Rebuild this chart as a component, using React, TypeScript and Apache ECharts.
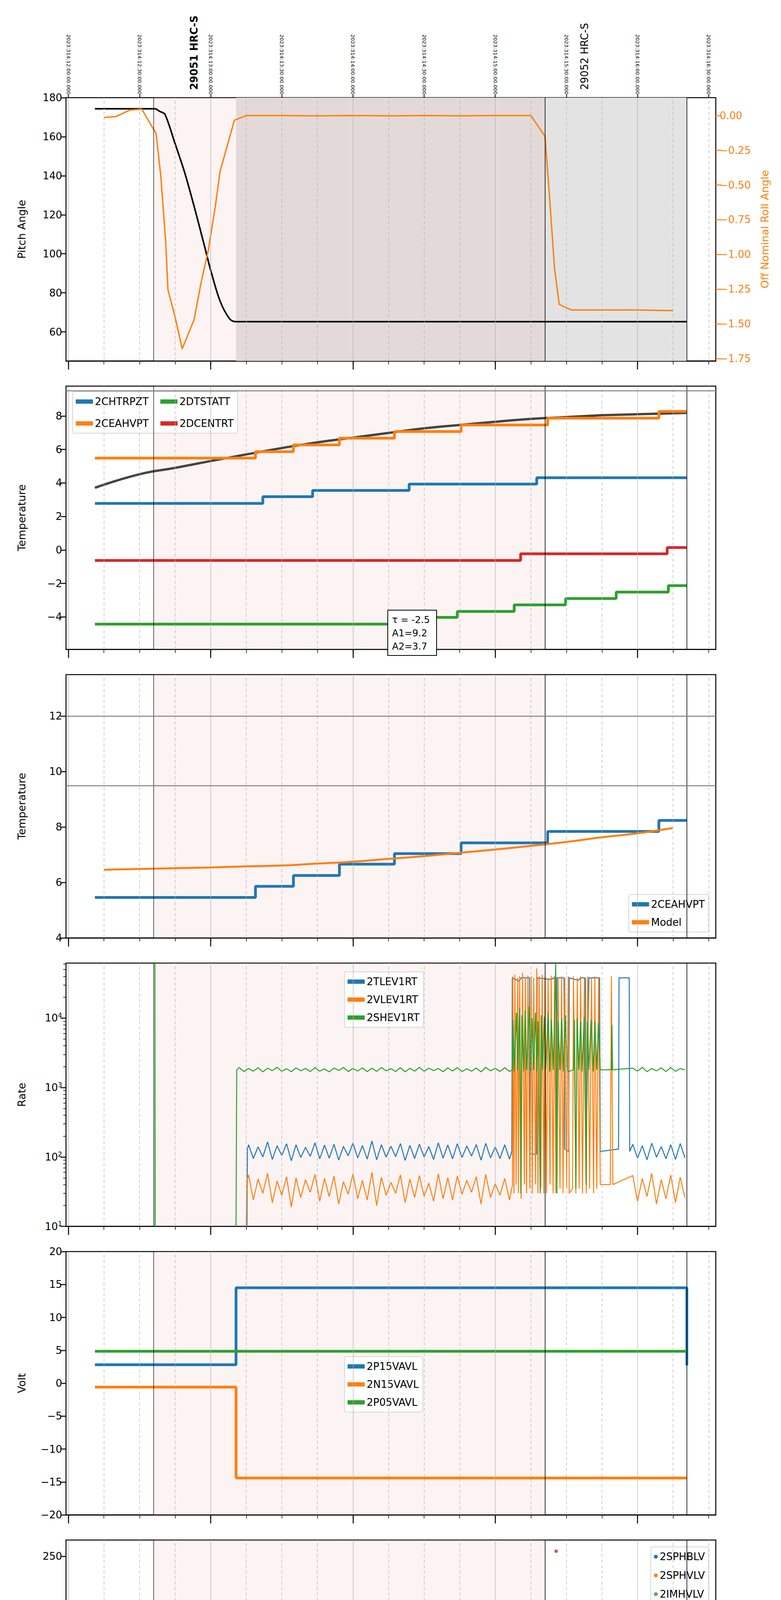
import { useEffect, useRef } from "react";
import * as echarts from "echarts";

// time axis is minutes after 07:00 (2023-11-10)
const hourTicks = [0, 60, 120, 180, 240];
const quarterTicks = [0, 15, 30, 45, 60, 75, 90, 105, 120, 135, 150, 165, 180, 195, 210, 225, 240, 255, 270];
const halfHourTicks = [0, 30, 60, 90, 120, 150, 180, 210, 240, 270];

// panel 1
const pitch = [[11.2, 174.3], [36.5, 174.3], [38.5, 173], [40.7, 171.5], [44.9, 156.8], [49.2, 141], [53.4, 122.6], [57.6, 103], [59.7, 93], [63.9, 76], [68.1, 66.5], [70.7, 65.2], [260.8, 65.2]];
const roll = [[15, -0.014], [20, -0.007], [26, 0.04], [31, 0.045], [37, -0.13], [39, -0.44], [41, -0.9], [42, -1.255], [45, -1.45], [48, -1.68], [53, -1.47], [56, -1.2], [59, -0.97], [62, -0.65], [64, -0.4], [70, -0.034], [75, 0.0], [90, 0.0], [105, -0.002], [120, 0.0], [135, -0.002], [150, 0.0], [165, -0.002], [180, 0.0], [195, 0.0], [201, -0.15], [203, -0.61], [205, -1.1], [207, -1.36], [212, -1.4], [225, -1.4], [240, -1.4], [255, -1.405]];

// panel 2
const chtrpzt = [[11.2, 2.78], [82, 3.18], [103, 3.55], [143.7, 3.93], [197.5, 4.31], [260.8, 4.31]];
const ceahvpt = [[11.2, 5.48], [78.9, 5.87], [94.9, 6.27], [114.3, 6.67], [137.5, 7.07], [165.6, 7.46], [202.1, 7.87], [249, 8.27], [260.8, 8.27]];
const dtstatt = [[11.2, -4.43], [146, -4.03], [164, -3.67], [188, -3.28], [209.7, -2.9], [231, -2.52], [253, -2.13], [260.8, -2.13]];
const dcentrt = [[11.2, -0.63], [190.7, -0.23], [252.5, 0.14], [260.8, 0.14]];
const tempModel = [[11.2, 3.71], [29.8, 4.51], [45, 4.9], [59.7, 5.3], [74.5, 5.69], [89.9, 6.08], [104.9, 6.42], [119.8, 6.7], [134.8, 6.98], [150, 7.26], [165, 7.46], [180, 7.65], [194.9, 7.82], [209.9, 7.93], [224.9, 8.04], [239.7, 8.1], [260.8, 8.18]];

// panel 3
const ceahvpt3 = [[11.2, 5.46], [78.9, 5.86], [94.9, 6.25], [114.3, 6.66], [137.5, 7.04], [165.6, 7.43], [202.1, 7.84], [249, 8.24], [260.8, 8.24]];
const model3 = [[15, 6.46], [36, 6.5], [59.7, 6.54], [74.5, 6.58], [89.9, 6.61], [104.9, 6.68], [119.8, 6.75], [134.8, 6.85], [150, 6.95], [165, 7.07], [180, 7.19], [194.9, 7.32], [209.9, 7.46], [224.9, 7.63], [239.7, 7.77], [254.8, 7.96]];

// panel 4 (rates)
const rateTimes = [76, 78, 80, 82, 84, 86, 88, 90, 92, 94, 96, 98, 100, 102, 104, 106, 108, 110, 112, 114, 116, 118, 120, 122, 124, 126, 128, 130, 132, 134, 136, 138, 140, 142, 144, 146, 148, 150, 152, 154, 156, 158, 160, 162, 164, 166, 168, 170, 172, 174, 176, 178, 180, 182, 184, 186];
const rateTimesLate = [238, 240, 242, 244, 246, 248, 250, 252, 254, 256, 258, 260];
const tlevEarly = [150, 95, 140, 100, 165, 92, 145, 105, 155, 88, 150, 98, 138, 102, 160, 94, 148, 96, 152, 90, 142, 104, 158, 97, 146, 93, 170, 91, 150, 99, 143, 101, 156, 89, 147, 95, 153, 100, 141, 92, 160, 96, 149, 94, 155, 98, 144, 103, 151, 90, 157, 97, 139, 95, 150, 93];
const tlevLate = [152, 96, 145, 91, 158, 99, 141, 94, 150, 92, 156, 97];
const vlevEarly = [55, 24, 48, 30, 58, 22, 45, 28, 52, 19, 50, 26, 47, 31, 56, 23, 49, 27, 53, 21, 44, 29, 57, 25, 46, 24, 60, 20, 51, 28, 43, 30, 55, 22, 48, 26, 54, 27, 42, 23, 57, 25, 50, 24, 53, 29, 46, 31, 52, 21, 56, 26, 41, 28, 49, 24];
const vlevLate = [54, 23, 49, 27, 58, 21, 47, 25, 55, 22, 51, 26];
const shevTimes = [72, 74, 76, 78, 80, 82, 84, 86, 88, 90, 92, 94, 96, 98, 100, 102, 104, 106, 108, 110, 112, 114, 116, 118, 120, 122, 124, 126, 128, 130, 132, 134, 136, 138, 140, 142, 144, 146, 148, 150, 152, 154, 156, 158, 160, 162, 164, 166, 168, 170, 172, 174, 176, 178, 180, 182, 184, 186];
const shevEarly = [1950, 1700, 1880, 1720, 1930, 1680, 1900, 1750, 1960, 1710, 1870, 1690, 1920, 1740, 1890, 1700, 1940, 1720, 1860, 1680, 1910, 1760, 1950, 1700, 1880, 1730, 1920, 1690, 1900, 1710, 1940, 1740, 1870, 1700, 1930, 1680, 1890, 1720, 1950, 1710, 1900, 1750, 1880, 1690, 1920, 1730, 1940, 1700, 1860, 1720, 1910, 1680, 1950, 1740, 1890, 1700, 1930, 1710];
const shevLate = [1900, 1720, 1950, 1690, 1880, 1740, 1920, 1700, 1940, 1710, 1870, 1800];
const tlevBurst = [[187, 120], [187.2, 38000], [190, 34000], [191, 38000], [194.5, 38000], [194.7, 110], [197.5, 110], [197.7, 38000], [203, 36000], [205, 38000], [205.5, 120], [206, 38000], [209, 38000], [209.3, 130], [211, 120], [211.2, 38000], [215, 35000], [216, 38000], [218, 38000], [218.3, 110], [219.5, 38000], [224, 38000], [224.3, 120], [232, 130], [232.2, 38000], [236.5, 38000], [236.7, 120]];
const vlevBurst = [[187.3, 40], [187.4, 40000], [187.9, 30], [188.3, 42000], [188.8, 40], [189.5, 38000], [189.8, 30], [190.3, 40000], [190.9, 25], [191.5, 45000], [192.3, 40], [192.7, 39000], [193.2, 30], [193.8, 41000], [194.6, 35], [195.2, 40000], [195.6, 30], [196.2, 38000], [197, 40], [197.5, 52000], [198, 30], [198.5, 40000], [199.2, 35], [199.8, 42000], [200.5, 30], [201, 40000], [201.6, 30], [202.3, 38000], [203.1, 40], [203.6, 41000], [204.4, 30], [205, 40000], [205.6, 30], [206.5, 39000], [207.3, 35], [208, 40000], [208.6, 30], [209.3, 38000], [210.1, 35], [210.8, 40000], [211.2, 30], [212.6, 35], [213, 40000], [214, 30], [214.6, 38000], [215.4, 35], [216, 40000], [216.8, 30], [217.6, 39000], [218.4, 30], [219, 40000], [219.8, 35], [220.6, 38000], [221.5, 30], [222, 40000], [222.8, 35], [223.6, 39000], [224.3, 40], [228.5, 40], [229, 40000], [229.6, 40]];
const shevBurst = [[187.3, 1800], [187.5, 9500], [188, 1700], [189, 12000], [189.5, 1800], [190.3, 14000], [190.8, 30], [191.2, 11000], [192, 1700], [192.6, 13000], [193.3, 1800], [194.4, 15000], [195, 1700], [195.5, 10000], [196.2, 1800], [197, 12000], [197.6, 1700], [198, 9000], [199, 30], [199.4, 11000], [200, 1800], [200.7, 10500], [201.3, 1800], [202.3, 12000], [203, 1700], [203.7, 9500], [204.5, 1800], [205.5, 62000], [205.8, 1800], [206, 30], [206.5, 9000], [207.3, 1800], [208, 10000], [208.8, 1700], [209.6, 11000], [210.4, 1800], [211, 1700], [213, 1800], [213.4, 9500], [214, 35], [214.5, 10000], [215.2, 1800], [216, 9000], [216.6, 1700], [217.5, 10500], [218.3, 40], [218.8, 9000], [219.5, 1800], [220.4, 9500], [221.3, 1700], [222, 9000], [222.8, 1800], [223.5, 8500], [224.3, 1800], [229, 1800], [229.2, 8000], [229.5, 1800]];

// panel 5
const p15 = [[11.2, 2.8], [70.7, 14.5], [260.6, 14.5], [260.8, 2.7]];
const n15 = [[11.2, -0.6], [70.7, -14.4], [260.8, -14.4]];
const p05 = [[11.2, 4.85], [260.8, 4.85]];

// panel 6
const sphblvPts = [[72.4, 118], [72.8, 102], [73.3, 97], [73.8, 92], [74.3, 87], [74.8, 82]];
const sphblvBand = [[75.5, 77.5], [260.8, 77.5]];
const sphvlvPts = [[72.4, 127], [72.4, 125], [72.8, 96], [73.3, 91], [73.8, 86], [74.3, 80], [74.8, 75], [195, 127], [196, 127], [198.4, 127], [201, 127], [204.9, 127], [207, 127], [209.5, 127], [211.2, 127], [217.5, 127], [223.6, 127]];
const sphvlvBand = [[75.8, 70.5], [260.8, 70.5]];
const imhblvPts = [[205.7, 255]];

// panel 7
const spinatm = [[71, 1.8], [71.3, 2.34], [180, 2.8], [187.3, -1.3], [187.6, 2.8], [190, -1.3], [190.6, 2.8], [191.3, -1.3], [192, 2.8], [192.6, -1.3], [193.2, 2.8], [194, -1.3], [194.6, 2.8], [195.2, -1.3], [196, 2.8], [196.6, -1.3], [197.4, 2.8], [198, -1.3], [198.8, 2.8], [199.4, -1.3], [200.2, 2.8], [200.8, -1.3], [201.6, 2.8], [202.2, -1.3], [203, 2.8], [203.6, -1.3], [204.4, 2.8], [205, -1.3], [205.8, 2.8], [206.4, -1.3], [207.2, 2.8], [207.8, -1.3], [208.6, 2.8], [209.2, -1.3], [210, 2.8], [210.6, -1.3], [211.2, 2.8], [213.4, -1.3], [214, 2.8], [214.6, -1.3], [215.4, 2.8], [216, -1.3], [216.8, 2.8], [217.4, -1.3], [218.2, 2.8], [218.8, -1.3], [219.6, 2.8], [220.2, -1.3], [221, 2.8], [221.6, -1.3], [222.4, 2.8], [223, -1.3], [224.2, 2.8], [229, -1.3], [229.6, 2.8], [260.8, 2.8]];
const sphvatm = [[70.7, 14.8], [72.5, 14.97], [82.5, 15.25], [87, 15.53], [91, 15.82], [95.6, 16.13], [100.8, 16.41], [106, 16.69], [113, 16.96], [120.5, 17.22], [129, 17.53], [138.8, 17.81], [149.4, 18.07], [163, 18.39], [179, 18.7], [187.3, 10.4], [187.8, 18.7], [189.2, 10.4], [189.6, 18.7], [190.4, 10.4], [190.8, 18.7], [191.6, 10.4], [192, 18.8], [192.8, 10.4], [193.2, 18.8], [194, 10.4], [194.4, 18.8], [195.2, 10.5], [195.6, 18.9], [196.4, 10.5], [196.8, 18.9], [197.6, 10.5], [198, 18.9], [198.8, 10.5], [199.2, 19.0], [200, 10.5], [200.4, 19.0], [201.2, 10.5], [201.6, 19.0], [202.4, 10.5], [202.8, 19.0], [203.6, 10.5], [204, 19.0], [204.8, 10.5], [205.2, 19.0], [206, 10.5], [206.4, 19.0], [207.2, 10.5], [207.6, 19.0], [208.4, 10.5], [208.8, 19.0], [209.6, 10.5], [210, 19.0], [213.5, 10.5], [214, 2.9], [214.3, 19.0], [215, 10.5], [215.4, 19.0], [216.2, 10.5], [216.6, 19.0], [217.4, 10.5], [218.4, 2.9], [218.8, 19.0], [219.6, 10.5], [220, 19.0], [220.8, 10.5], [221.2, 19.0], [222, 10.5], [222.4, 19.0], [223.2, 10.5], [224, 19.2], [229, 10.4], [229.6, 19.27], [256, 19.57], [260.8, 19.57]];
const iminatm = [[71, 0.22], [187.3, 2.8], [187.7, 0.22], [189.6, 2.8], [190, 0.22], [191, 2.8], [191.5, 0.22], [192.5, 2.8], [193, 0.22], [194, 2.8], [194.5, 0.22], [195.5, 2.8], [196, 0.22], [197, 2.8], [197.5, 0.22], [198.5, 2.8], [199, 0.64], [200, 2.8], [200.5, 0.64], [201.5, 2.8], [202, 0.64], [203, 2.8], [203.5, 0.64], [204.5, 2.8], [205, 0.64], [206, 2.8], [206.5, 0.64], [207.5, 2.8], [208, 0.64], [209, 2.8], [209.5, 0.64], [210.5, 2.8], [211.2, 0.64], [213.4, 2.8], [214, 0.64], [215, 2.8], [215.5, 0.64], [216.5, 2.8], [217, 0.64], [218, 2.8], [218.5, 0.64], [219.5, 2.8], [220, 0.64], [221, 2.8], [221.5, 0.64], [222.5, 2.8], [223, 0.64], [224, 2.8], [224.4, 0.64], [229, 2.8], [229.6, 0.64], [260.8, 0.64]];
const imhvatm = [[70.7, -1.3], [70.8, 14.5], [71.3, 14.13], [90.3, 14.45], [116, 14.7], [137.8, 14.95], [160.3, 15.25], [185.9, 15.55], [187.3, 19.0], [187.6, 15.55], [190.5, 19.0], [190.8, 15.55], [192.2, 19.0], [192.6, 15.55], [193.4, 19.0], [193.8, 15.55], [194.6, 19.0], [195, 15.55], [195.7, 19.0], [196.1, 15.55], [196.8, 19.0], [197.2, 15.55], [197.9, 19.0], [198.3, 15.55], [199, 19.0], [199.4, 15.55], [200.1, 19.0], [200.5, 15.55], [201.2, 19.0], [201.6, 15.55], [202.3, 19.0], [202.7, 15.55], [203.4, 19.0], [203.8, 15.55], [204.5, 19.0], [205.5, -1.3], [206, 19.0], [206.6, 15.55], [207.3, 19.0], [207.7, 15.55], [208.4, 19.0], [208.8, 15.55], [209.5, 19.0], [210, 15.55], [210.6, 19.0], [211.4, 15.55], [213.3, 19.0], [213.7, 15.55], [214.4, 19.0], [214.8, 15.55], [215.5, 19.0], [215.9, 15.55], [216.6, 19.0], [217, 15.55], [217.7, 19.0], [218.1, 15.55], [218.8, 19.0], [219.2, 15.55], [219.9, 19.0], [220.3, 15.55], [221, 19.0], [221.4, 15.55], [222.1, 19.0], [222.5, 15.55], [223.2, 19.3], [224, 15.85], [228.5, 19.3], [229.2, 15.85], [253.8, 16.1], [260.8, 16.1]];

// panel 8
const fhtrmzt = [[11.2, -7.58], [39, -7.18], [72, -7.58], [76, -7.18], [90.5, -6.78], [100.4, -6.38], [110.3, -5.98], [121, -5.59], [132.8, -6.0], [133.3, -5.59], [133.6, -5.2], [142, -4.8], [153.6, -4.42], [164.8, -4.03], [171, -3.64], [171.3, -4.03], [177.4, -3.64], [189.5, -3.26], [203, -2.87], [216, -2.52], [230, -2.13], [243, -1.75], [257.6, -1.38], [260.8, -1.38]];
const fradpyt = [[11.2, -9.22], [45, -8.79], [61, -9.22], [71.7, -9.63], [83, -9.22], [97.7, -8.79], [110.3, -8.39], [122.6, -7.98], [135.2, -7.58], [148, -7.17], [162, -6.78], [175.3, -6.38], [189.9, -5.98], [204.4, -5.59], [217.5, -5.2], [231.9, -4.8], [246.8, -4.42], [260.8, -4.42]];
const feppratm = [[71, -6.23], [73.1, -5.82], [75.7, -5.42], [79.5, -5.03], [82.7, -4.63], [86.9, -4.19], [92.6, -3.83], [99.6, -3.43], [107.6, -3.03], [116.5, -2.61], [126.4, -2.21], [136.5, -1.82], [148.1, -1.42], [159.7, -1.0], [173, -0.59], [186.2, -0.2], [187, -4.65], [187.4, -0.2], [189.5, -4.65], [189.9, -0.2], [191, -4.65], [191.4, -0.2], [192.4, -4.65], [192.8, -0.2], [194, -4.65], [194.4, 0.0], [195.5, -4.65], [195.9, 0.0], [197, -4.65], [197.4, 0.0], [198.5, -4.65], [198.9, 0.0], [200, -4.65], [200.4, 0.0], [201.5, -4.65], [201.9, 0.1], [203, -4.65], [203.4, 0.1], [204.5, -4.65], [204.9, 0.1], [206, -4.65], [206.4, 0.2], [207.5, -4.65], [207.9, 0.2], [209, -4.65], [209.4, 0.2], [210.5, -4.65], [210.9, 0.3], [213.5, -4.65], [213.9, 0.3], [215, -4.65], [215.4, 0.4], [216.5, -4.65], [216.9, 0.4], [218, -4.65], [218.4, 0.45], [219.5, -4.65], [219.9, 0.5], [221, -4.65], [221.4, 0.5], [222.5, -4.65], [222.9, 0.5], [228.7, -4.65], [229.3, 0.64], [231.9, 1.06], [248.5, 1.5], [260.8, 1.5]];
const fe00atm = [[70.7, -9.9], [70.8, -5.21], [79.3, -4.88], [86.7, -4.53], [91, -3.5], [91.3, -4.53], [93.5, -4.14], [100.2, -3.82], [107.2, -3.47], [114.6, -3.12], [121.7, -2.78], [129.7, -2.44], [138.1, -2.12], [146.5, -1.1], [146.8, -1.78], [155.7, -1.45], [165.2, -1.1], [174.9, -0.77], [184.6, -0.46], [187.5, 1.8], [187.8, -0.46], [189.3, 1.8], [189.9, -0.2], [190.5, 1.8], [191.1, -0.2], [191.7, 1.8], [192.3, -0.2], [192.9, 1.8], [193.5, -0.2], [194.1, 1.8], [194.6, -9.9], [194.9, 1.8], [195.5, -0.2], [196.1, 1.8], [196.7, -0.2], [197.3, 1.8], [197.9, -0.2], [198.5, 1.8], [199.1, -0.2], [199.7, 1.8], [200.3, -0.2], [200.9, 1.8], [201.5, -0.2], [202.1, 1.8], [202.7, -0.2], [203.3, 1.8], [203.9, -0.2], [204.5, 1.8], [205.5, -9.9], [205.9, 1.8], [206.5, -0.2], [207.1, 1.8], [207.7, -0.2], [208.3, 1.8], [208.9, -0.2], [209.5, 1.8], [210.1, -0.2], [210.7, 1.8], [211.2, 0.27], [213.2, 1.8], [213.8, -9.9], [214.2, 1.8], [215, 0.5], [215.6, 1.8], [216.2, 0.5], [216.8, 1.8], [217.4, 0.5], [218.4, -9.9], [218.8, 1.8], [219.4, 0.5], [220, 1.8], [220.6, 0.5], [221.2, 1.8], [221.8, 0.5], [222.6, -9.9], [223, 1.8], [223.6, 0.5], [226.8, 1.8], [227.2, 0.83], [238.6, 1.12], [250.2, 1.43], [260.8, 1.43]];

const C = { blue: "#1f77b4", orange: "#ff7f0e", green: "#2ca02c", red: "#d62728" };
const FONT = "DejaVu Sans";
const GRID_TOP = 250;
const GRID_STEP = 738.5;
const GRID_H = 674;
const X_MIN = -1;
const X_MAX = 273;

const minus = (s: string) => s.replace("-", "\u2212");

export default function App() {
    const ref = useRef<HTMLDivElement | null>(null);

    useEffect(() => {
        if (!ref.current) return;
        document.body.style.margin = "0";
        const chart = echarts.init(ref.current, null, { renderer: "svg" });

        const grids: any[] = [];
        const xAxes: any[] = [];
        const yAxes: any[] = [];
        const series: any[] = [];
        const legends: any[] = [];

        const panelYs = [
            { name: "Pitch Angle", min: 45.1, max: 180, ticks: [60, 80, 100, 120, 140, 160, 180], fmt: (v: number) => String(v) },
            { name: "Temperature", min: -5.94, max: 9.78, ticks: [-4, -2, 0, 2, 4, 6, 8], fmt: (v: number) => minus(String(v)) },
            { name: "Temperature", min: 4, max: 13.5, ticks: [4, 6, 8, 10, 12], fmt: (v: number) => String(v) },
            { name: "Rate", min: 10, max: 62000, ticks: [10, 100, 1000, 10000], log: true, fmt: (v: number) => "10{s|" + Math.round(Math.log10(v)) + "}" },
            { name: "Volt", min: -20, max: 20, ticks: [-20, -15, -10, -5, 0, 5, 10, 15, 20], fmt: (v: number) => minus(String(v)) },
            { name: "HV Monitor", min: 0, max: 266.3, ticks: [0, 50, 100, 150, 200, 250], fmt: (v: number) => String(v) },
            { name: "Detector Temp", min: -1.29, max: 20.47, ticks: [0, 2.5, 5, 7.5, 10, 12.5, 15, 17.5, 20], fmt: (v: number) => v.toFixed(1) },
            { name: "FEA Temp", min: -9.89, max: 1.73, ticks: [-8, -6, -4, -2, 0], fmt: (v: number) => minus(String(v)) },
        ];

        const yIdx: number[] = [];
        panelYs.forEach((p, i) => {
            const top = GRID_TOP + GRID_STEP * i;
            grids.push({ left: 169, right: 167, top, height: GRID_H, show: true, borderColor: "#000", borderWidth: 2.5, backgroundColor: "transparent" });
            const last = i === panelYs.length - 1;
            xAxes.push({
                type: "value", gridIndex: i, min: X_MIN, max: X_MAX, position: "bottom",
                axisLine: { show: true, onZero: false, lineStyle: { color: "#000", width: 2.5 } },
                axisTick: { show: true, customValues: hourTicks, length: 22, lineStyle: { color: "#000", width: 2.5 } },
                axisLabel: {
                    show: last, customValues: quarterTicks, fontFamily: FONT, color: "#000",
                    formatter: (v: number) => (v % 60 === 0 ? "{h|" + String(7 + v / 60).padStart(2, "0") + "h}" : "{m|" + (v % 60) + "}"),
                    rich: { h: { fontSize: 30, fontFamily: FONT, padding: [44, 0, 0, 0] }, m: { fontSize: 17, fontFamily: FONT } },
                },
                splitLine: { show: false },
            });
            xAxes.push({
                type: "value", gridIndex: i, min: X_MIN, max: X_MAX, position: "bottom",
                axisLine: { show: false, onZero: false },
                axisTick: { show: true, customValues: quarterTicks, length: 9, lineStyle: { color: "#000", width: 1.5 } },
                axisLabel: { show: false }, splitLine: { show: false },
            });
            yIdx.push(yAxes.length);
            yAxes.push({
                type: p.log ? "log" : "value", gridIndex: i, min: p.min, max: p.max, position: "left",
                name: p.name, nameLocation: "middle", nameGap: 100,
                nameTextStyle: { fontFamily: FONT, fontSize: 27, color: "#000" },
                axisLine: { show: true, onZero: false, lineStyle: { color: "#000", width: 2 } },
                axisTick: { show: true, customValues: p.ticks, length: 14, lineStyle: { color: "#000", width: 2.5 } },
                axisLabel: {
                    customValues: p.ticks, formatter: p.fmt, fontFamily: FONT, fontSize: 26, color: "#000", margin: 10,
                    rich: { s: { fontSize: 17, fontFamily: FONT, padding: [0, 0, 14, 0] } },
                },
                splitLine: { show: false },
            });
            if (p.log) {
                yAxes.push({
                    type: "log", gridIndex: i, min: p.min, max: p.max, position: "left",
                    axisLine: { show: true, onZero: false, lineStyle: { color: "#000", width: 2 } }, axisLabel: { show: false }, splitLine: { show: false },
                    axisTick: { show: true, length: 7, lineStyle: { color: "#000", width: 1.5 }, customValues: [20, 30, 40, 50, 60, 70, 80, 90, 200, 300, 400, 500, 600, 700, 800, 900, 2000, 3000, 4000, 5000, 6000, 7000, 8000, 9000, 20000, 30000, 40000, 50000, 60000] },
                });
            }
        });

        // right axis for roll
        const rollTicks = [0, -0.25, -0.5, -0.75, -1, -1.25, -1.5, -1.75];
        const rollAxis = yAxes.length;
        yAxes.push({
            type: "value", gridIndex: 0, min: -1.767, max: 0.129, position: "right",
            name: "Off Nominal Roll Angle", nameLocation: "middle", nameGap: 112,
            nameTextStyle: { fontFamily: FONT, fontSize: 27, color: C.orange },
            axisLine: { show: true, onZero: false, lineStyle: { color: "#000", width: 2 } },
            axisTick: { show: true, customValues: rollTicks, length: 14, lineStyle: { color: C.orange, width: 2.5 } },
            axisLabel: { customValues: rollTicks, formatter: (v: number) => minus(v.toFixed(2)), fontFamily: FONT, fontSize: 26, color: C.orange, margin: 10 },
            splitLine: { show: false },
        });

        // top annotation axis
        xAxes.push({
            type: "value", gridIndex: 0, min: X_MIN, max: X_MAX, position: "top",
            axisLine: { show: false, onZero: false },
            axisTick: { show: true, customValues: halfHourTicks, length: 8, lineStyle: { color: "#000", width: 2 } },
            axisLabel: {
                customValues: halfHourTicks, rotate: 90, fontFamily: FONT, fontSize: 13, color: "#000", margin: 8,
                formatter: (v: number) => "2023:314:" + (12 + Math.floor(v / 60)) + ":" + (v % 60 === 0 ? "00" : "30") + ":00.000",
            },
            splitLine: { show: false },
        });

        const GRID_COLOR = "#b0b0b0";
        panelYs.forEach((_, i) => {
            const areas: any[] = i === 0
                ? [
                    [{ xAxis: 36, itemStyle: { color: "rgba(240,190,190,0.18)" } }, { xAxis: 70.7 }],
                    [{ xAxis: 70.7, itemStyle: { color: "#e4d9d9" } }, { xAxis: 201 }],
                    [{ xAxis: 201, itemStyle: { color: "#e3e3e3" } }, { xAxis: 260.8 }],
                ]
                : [[{ xAxis: 36, itemStyle: { color: "rgba(240,190,190,0.18)" } }, { xAxis: 201 }]];
            const lines: any[] = [];
            quarterTicks.forEach((q) => {
                if (q % 60 === 0) lines.push({ xAxis: q, lineStyle: { color: GRID_COLOR, width: 1.2, type: "solid" } });
                else lines.push({ xAxis: q, lineStyle: { color: GRID_COLOR, width: 1.2, type: [8, 6] } });
            });
            lines.push({ xAxis: 36, lineStyle: { color: "#000", width: 1.2, type: "solid" } });
            lines.push({ xAxis: 201, lineStyle: { color: "#000", width: 1.6, type: "solid" } });
            lines.push({ xAxis: 260.8, lineStyle: { color: "#000", width: 1.6, type: "solid" } });
            if (i === 1) lines.push({ yAxis: 9.51, lineStyle: { color: "#808080", width: 2.5, type: "solid" } });
            if (i === 2) {
                lines.push({ yAxis: 12, lineStyle: { color: "#808080", width: 2.5, type: "solid" } });
                lines.push({ yAxis: 9.5, lineStyle: { color: "#808080", width: 2.5, type: "solid" } });
            }
            series.push({
                type: "line", xAxisIndex: 2 * i, yAxisIndex: yIdx[i], data: [], silent: true, z: 1,
                markArea: { silent: true, data: areas },
                markLine: { silent: true, symbol: "none", label: { show: false }, data: lines },
            });
        });

        const line = (name: string, data: any, color: string, panel: number, width: number, step: any = "end", extra: any = {}) => ({
            type: "line", name, data, xAxisIndex: 2 * panel, yAxisIndex: yIdx[panel], step, showSymbol: false, symbol: "none",
            lineStyle: { color, width }, itemStyle: { color }, z: 3, ...extra,
        });

        // panel 1
        series.push(line("Pitch", pitch, "#000", 0, 4, false, { smooth: 0.3 }));
        series.push({ ...line("Roll", roll, C.orange, 0, 3.5, false), yAxisIndex: rollAxis });
        // panel 2
        series.push(line("model", tempModel, "#444", 1, 6, false, { smooth: true }));
        series.push(line("2CHTRPZT", chtrpzt, C.blue, 1, 7));
        series.push(line("2CEAHVPT", ceahvpt, C.orange, 1, 7));
        series.push(line("2DTSTATT", dtstatt, C.green, 1, 7));
        series.push(line("2DCENTRT", dcentrt, C.red, 1, 7));
        legends.push({ data: ["2CHTRPZT", "2DTSTATT", "2CEAHVPT", "2DCENTRT"], left: 186, top: 1003, width: 470, itemGap: 30 });
        // panel 3
        series.push(line("2CEAHVPT", ceahvpt3, C.blue, 2, 7));
        series.push(line("Model", model3, C.orange, 2, 5, false, { smooth: true }));
        legends.push({ data: [{ name: "2CEAHVPT", itemStyle: { color: C.blue } }, { name: "Model", itemStyle: { color: C.orange } }], right: 185, top: 2290, orient: "vertical" });
        // panel 4
        const pair = (t: number[], v: number[]) => t.map((x, k) => [x, v[k]]);
        const tlev = [[75.3, 10], [75.5, 130], ...pair(rateTimes, tlevEarly), ...tlevBurst, ...pair(rateTimesLate, tlevLate)];
        const vlev = [[75, 10], [75.3, 45], ...pair(rateTimes, vlevEarly), ...vlevBurst, ...pair(rateTimesLate, vlevLate)];
        const shev = [[36.5, 10], [36.5, 62000], [36.6, 10], "-", [70.7, 10], [71, 1800], ...pair(shevTimes, shevEarly), ...shevBurst, ...pair(rateTimesLate, shevLate)];
        series.push(line("2TLEV1RT", tlev, C.blue, 3, 2.5, false));
        series.push(line("2VLEV1RT", vlev, C.orange, 3, 2.5, false));
        series.push(line("2SHEV1RT", shev, C.green, 3, 2.5, false, { connectNulls: false }));
        legends.push({ data: ["2TLEV1RT", "2VLEV1RT", "2SHEV1RT"], left: 882, top: 2488, orient: "vertical" });
        // panel 5
        series.push(line("2P15VAVL", p15, C.blue, 4, 7));
        series.push(line("2N15VAVL", n15, C.orange, 4, 7));
        series.push(line("2P05VAVL", p05, C.green, 4, 7));
        legends.push({ data: ["2P15VAVL", "2N15VAVL", "2P05VAVL"], left: 882, top: 3473, orient: "vertical" });
        // panel 6
        const scat = (name: string, data: any, color: string) => ({ type: "scatter", name, data, xAxisIndex: 10, yAxisIndex: yIdx[5], symbolSize: 9, itemStyle: { color }, z: 4 });
        series.push({ ...line("2SPHBLV", sphblvBand, C.blue, 5, 14, false), z: 3 });
        series.push({ ...line("2SPHVLV", sphvlvBand, C.orange, 5, 10, false), z: 3 });
        series.push(scat("2SPHBLV", sphblvPts, C.blue));
        series.push(scat("2SPHVLV", sphvlvPts, C.orange));
        series.push(scat("2IMHVLV", [], C.green));
        series.push(scat("2IMHBLV", imhblvPts, C.red));
        legends.push({
            data: [
                { name: "2SPHBLV", icon: "circle", itemStyle: { color: C.blue } },
                { name: "2SPHVLV", icon: "circle", itemStyle: { color: C.orange } },
                { name: "2IMHVLV", icon: "circle", itemStyle: { color: C.green } },
                { name: "2IMHBLV", icon: "circle", itemStyle: { color: C.red } },
            ],
            right: 185, top: 3960, orient: "vertical", itemWidth: 10, itemHeight: 10, itemGap: 22,
        });
        // panel 7
        series.push(line("2SPINATM", spinatm, C.blue, 6, 7));
        series.push(line("2SPHVATM", sphvatm, C.orange, 6, 7));
        series.push(line("2IMINATM", iminatm, C.green, 6, 7));
        series.push(line("2IMHVATM", imhvatm, C.red, 6, 7));
        legends.push({ data: ["2SPINATM", "2SPHVATM", "2IMINATM", "2IMHVATM"], right: 185, top: 4932, orient: "vertical" });
        // panel 8
        series.push(line("2FHTRMZT", fhtrmzt, C.blue, 7, 7));
        series.push(line("2FRADPYT", fradpyt, C.orange, 7, 7));
        series.push(line("2FEPRATM", feppratm, C.green, 7, 7));
        series.push(line("2FE00ATM", fe00atm, C.red, 7, 7));
        legends.push({ data: ["2FHTRMZT", "2FRADPYT", "2FEPRATM", "2FE00ATM"], right: 185, top: 5908, orient: "vertical" });

        const legendBase = {
            icon: "rect", itemWidth: 44, itemHeight: 11, itemGap: 20, backgroundColor: "rgba(255,255,255,0.85)",
            borderColor: "#d6d6d6", borderWidth: 2, borderRadius: 4, padding: [12, 10, 12, 8],
            textStyle: { fontFamily: FONT, fontSize: 26, color: "#000" },
        };

        chart.setOption({
            animation: false,
            backgroundColor: "#fff",
            textStyle: { fontFamily: FONT },
            grid: grids,
            xAxis: xAxes,
            yAxis: yAxes,
            legend: legends.map((l) => ({ ...legendBase, ...l })),
            series,
            graphic: [
                { type: "text", x: 497, y: 230, rotation: Math.PI / 2, style: { text: "29051 HRC-S", font: "bold 26px 'DejaVu Sans'", fill: "#000", textAlign: "left", textVerticalAlign: "middle" } },
                { type: "text", x: 1497, y: 230, rotation: Math.PI / 2, style: { text: "29052 HRC-S", font: "26px 'DejaVu Sans'", fill: "#000", textAlign: "left", textVerticalAlign: "middle" } },
                { type: "rect", shape: { x: 993, y: 1562, width: 125, height: 116 }, style: { fill: "#fff", stroke: "#000", lineWidth: 2 }, z: 100 },
                { type: "text", x: 1004, y: 1570, z: 101, style: { text: "\u03c4 = -2.5\nA1=9.2\nA2=3.7", font: "24px 'DejaVu Sans'", fill: "#000", lineHeight: 34 } },
                { type: "text", x: 1002, y: 6160, style: { text: "2023-11-10 (314)", font: "30px 'DejaVu Sans'", fill: "#000", textAlign: "center" } },
            ],
        });

        return () => chart.dispose();
    }, []);

    return <div ref={ref} style={{ width: 2000, height: 6200 }} />;
}
